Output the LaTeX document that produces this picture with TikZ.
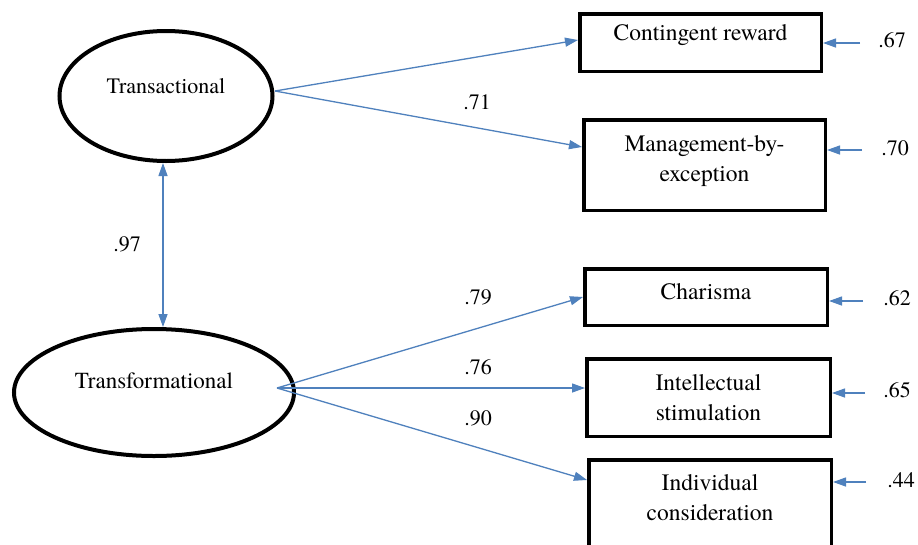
\documentclass[tikz,border=0pt]{standalone}
\usepackage{fontspec}
\setmainfont{texgyretermes-regular.otf}
\usetikzlibrary{arrows.meta,shapes.geometric}
\definecolor{lblue}{HTML}{4F81BD}
\begin{document}
\begin{tikzpicture}[x=1pt,y=-1pt,
  latent/.style={draw,ellipse,line width=4pt,inner sep=0pt},
  obs/.style={draw,rectangle,line width=3.5pt,inner sep=0pt},
  txt/.style={font=\fontsize{23.5}{30}\selectfont,align=center,inner sep=0pt},
  num/.style={font=\fontsize{22}{26}\selectfont,inner sep=0pt},
  arr/.style={draw=lblue,line width=1.3pt,-{Triangle[length=13pt,width=9pt]}},
  dbl/.style={draw=lblue,line width=1.3pt,{Triangle[length=13pt,width=9pt]}-{Triangle[length=13pt,width=9pt]}},
]
\useasboundingbox (0,0) rectangle (918,544);
\fill[white] (0,0) rectangle (918,544);

% latent variables
\node[latent,minimum width=213pt,minimum height=130pt] (ta) at (166,96) {};
\node[txt,font=\fontsize{22}{26}\selectfont] (tat) at ([yshift=10pt]ta.center) {Transactional};
\node[latent,minimum width=280pt,minimum height=127pt] (tf) at (154,392.5) {};
\node[txt,font=\fontsize{23}{26}\selectfont] (tft) at ([yshift=12pt]tf.center) {Transformational};

% observed variables
\node[obs,minimum width=241.5pt,minimum height=57.5pt] (cr) at (700.5,42.5) {};
\node[txt] (crt) at ([yshift=7pt]cr.center) {Contingent reward};
\node[obs,minimum width=241.5pt,minimum height=90.5pt] (mbe) at (704.5,165) {};
\node[txt] (mbet) at ([yshift=4pt]mbe.center) {Management-by-\\exception};
\node[obs,minimum width=242.5pt,minimum height=56.5pt] (ch) at (706,297) {};
\node[txt] (cht) at ([yshift=5pt]ch.center) {Charisma};
\node[obs,minimum width=243.5pt,minimum height=77.5pt] (is) at (708.5,397.5) {};
\node[txt] (ist) at ([yshift=0pt]is.center) {Intellectual\\stimulation};
\node[obs,minimum width=242.5pt,minimum height=88.5pt] (ic) at (710,504) {};
\node[txt] (ict) at ([yshift=6pt]ic.center) {Individual\\consideration};

% correlation
\draw[dbl] ([xshift=-3pt]ta.south) -- ([xshift=-3pt]ta.south |- tf.north);
\node[num] (r97) at (127,244) {.97};

% loadings
\coordinate (tao) at (275,91);
\coordinate (tfo) at (277,388);
\draw[arr] (tao) -- ([yshift=2.5pt]cr.west);
\draw[arr] (tao) -- ([yshift=18pt]mbe.west);
\draw[arr] (tfo) -- (ch.west);
\draw[arr] (tfo) -- ([yshift=9.5pt]is.west);
\draw[arr] (tfo) -- ([yshift=24pt]ic.west);
\node[num] (l71) at (477,102) {.71};
\node[num] (l79) at (478,297) {.79};
\node[num] (l76) at (478,367) {.76};
\node[num] (l90) at (478,418) {.90};

% error terms
\coordinate (e1) at (860,43);
\coordinate (e2) at (862,150);
\coordinate (e3) at (863,301);
\coordinate (e4) at (865,393);
\coordinate (e5) at (866,482);
\draw[arr] (e1) -- (e1 -| cr.east);
\draw[arr] (e2) -- (e2 -| mbe.east);
\draw[arr] (e3) -- (e3 -| ch.east);
\draw[arr] (e4) -- (e4 -| is.east);
\draw[arr] (e5) -- (e5 -| ic.east);
\node[num] (n67) at (892,40) {.67};
\node[num] (n70) at (895,148) {.70};
\node[num] (n62) at (897,298) {.62};
\node[num] (n65) at (897,390) {.65};
\node[num] (n44) at (901,480) {.44};
\end{tikzpicture}
\end{document}
